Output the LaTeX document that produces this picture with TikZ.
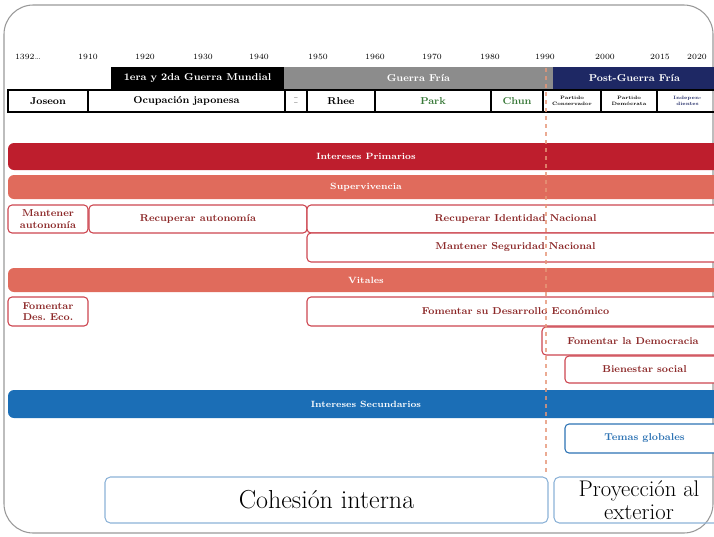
\documentclass[tikz,border=0pt]{standalone}

\definecolor{darkbar}{RGB}{190,30,45}
\definecolor{salmonbar}{RGB}{224,107,92}
\definecolor{bluebar}{RGB}{27,110,182}
\definecolor{navybar}{RGB}{30,40,100}
\definecolor{graybar}{RGB}{140,140,140}
\definecolor{boxred}{RGB}{205,70,80}
\definecolor{txtred}{RGB}{140,40,40}
\definecolor{txtgreen}{RGB}{55,120,55}
\definecolor{txtblue}{RGB}{45,115,180}
\definecolor{lightblue}{RGB}{140,178,215}
\definecolor{peach}{RGB}{230,150,120}

\tikzset{
	boxsize/.style 2 args={minimum width=#1*0.75pt, minimum height=#2*0.75pt},
	yearlbl/.style={font=\fontsize{6}{6}\selectfont, inner sep=0pt},
	erabar/.style={inner sep=0pt, text=white, font=\bfseries\fontsize{7.5}{8}\selectfont},
	percell/.style={draw=black, line width=0.9pt, inner sep=0pt, font=\bfseries\fontsize{7.5}{8}\selectfont},
	tinycell/.style={percell, align=center, font=\bfseries\fontsize{3.6}{4}\selectfont},
	interbar/.style={inner sep=0pt, rounded corners=4.5pt, text=white, font=\bfseries\fontsize{6.8}{7}\selectfont},
	redbox/.style={draw=boxred, line width=0.8pt, rounded corners=3pt, fill=white, inner sep=0pt,
		align=center, text=txtred, font=\bfseries\fontsize{7.5}{8.5}\selectfont},
	bluebox/.style={redbox, draw=txtblue, text=txtblue},
	frontbox/.style={draw=lightblue, line width=0.8pt, rounded corners=4pt, inner sep=0pt, align=center}
}

\begin{document}
\begin{tikzpicture}[x=0.75pt,y=0.75pt,yscale=-1,xscale=1]
\useasboundingbox (0,0) rectangle (714,536);

% outer frame
\draw[black!40, line width=0.8pt, rounded corners=22pt] (4,5) rectangle (713,533);

% years
\node[yearlbl] (y1392) at (28,57) {1392\dots};
\node[yearlbl] (y1910) at (88,57) {1910};
\node[yearlbl] (y1920) at (145,57) {1920};
\node[yearlbl] (y1930) at (203,57) {1930};
\node[yearlbl] (y1940) at (259,57) {1940};
\node[yearlbl] (y1950) at (318,57) {1950};
\node[yearlbl] (y1960) at (375,57) {1960};
\node[yearlbl] (y1970) at (432,57) {1970};
\node[yearlbl] (y1980) at (490,57) {1980};
\node[yearlbl] (y1990) at (545,57) {1990};
\node[yearlbl] (y2000) at (605,57) {2000};
\node[yearlbl] (y2015) at (660,57) {2015};
\node[yearlbl] (y2020) at (697,57) {2020};

% eras
\node[erabar, fill=black, boxsize={173}{22}] (ww) at (197.5,78) {1era y 2da Guerra Mundial};
\node[erabar, fill=graybar, boxsize={269}{22}] (cold) at (418.5,78) {Guerra Fría};
\node[erabar, fill=navybar, boxsize={163}{22}] (post) at (634.5,78) {Post-Guerra Fría};

% periods
\node[percell, boxsize={80}{22}] (joseon) at (48,101) {Joseon};
\node[percell, boxsize={197}{22}] (ocup) at (186.5,101) {Ocupación japonesa};
\node[tinycell, boxsize={22}{22}] (trans) at (296,101) {--\\--};
\node[percell, boxsize={68}{22}] (rhee) at (341,101) {Rhee};
\node[percell, text=txtgreen, boxsize={116}{22}] (park) at (433,101) {Park};
\node[percell, text=txtgreen, boxsize={52}{22}] (chun) at (517,101) {Chun};
\node[tinycell, boxsize={58}{22}] (pcons) at (572,101) {Partido\\Conservador};
\node[tinycell, boxsize={56}{22}] (pdem) at (629,101) {Partido\\Demócrata};
\node[tinycell, text=navybar, boxsize={61}{22}] (indep) at (687.5,101) {Indepen-\\dientes};

% intereses primarios
\node[interbar, fill=darkbar, boxsize={716}{27}] (prim) at (366,156.5) {Intereses Primarios};
\node[interbar, fill=salmonbar, boxsize={716}{24}] (superv) at (366,187) {Supervivencia};
\node[redbox, boxsize={80}{28}] (mantaut) at (48,219) {Mantener\\autonomía};
\node[redbox, boxsize={218}{28}] (recaut) at (198,219) {Recuperar autonomía};
\node[redbox, boxsize={417}{28}] (recid) at (515.5,219) {Recuperar Identidad Nacional};
\node[redbox, boxsize={417}{29}] (mantseg) at (515.5,247.5) {Mantener Seguridad Nacional};
\node[interbar, fill=salmonbar, boxsize={716}{24}] (vital) at (366,280) {Vitales};
\node[redbox, boxsize={80}{29}] (fomdes) at (48,311.5) {Fomentar\\Des.\ Eco.};
\node[redbox, boxsize={417}{29}] (fomeco) at (515.5,311.5) {Fomentar su Desarrollo Económico};
\node[redbox, boxsize={182}{28}] (fomdem) at (633,341) {Fomentar la Democracia};
\node[redbox, boxsize={159}{27}] (bienes) at (644.5,369.5) {Bienestar social};

% intereses secundarios
\node[interbar, fill=bluebar, boxsize={716}{28}] (secu) at (366,404) {Intereses Secundarios};
\node[bluebox, boxsize={159}{29}] (temas) at (644.5,438.5) {Temas globales};

% frentes
\node[frontbox, font=\fontsize{19.5}{21}\selectfont, boxsize={443}{46}] (cohes) at (326.5,500) {Cohesión interna};
\node[frontbox, font=\fontsize{17}{17.5}\selectfont, boxsize={170}{46}] (proy) at (639,500) {Proyección al\\exterior};

% corte 1990
\coordinate (cuttop) at (546,68);
\coordinate (cutbot) at (546,472);
\draw[peach, dashed, line width=0.8pt, opacity=0.8] (cuttop) -- (cutbot);

\end{tikzpicture}
\end{document}
